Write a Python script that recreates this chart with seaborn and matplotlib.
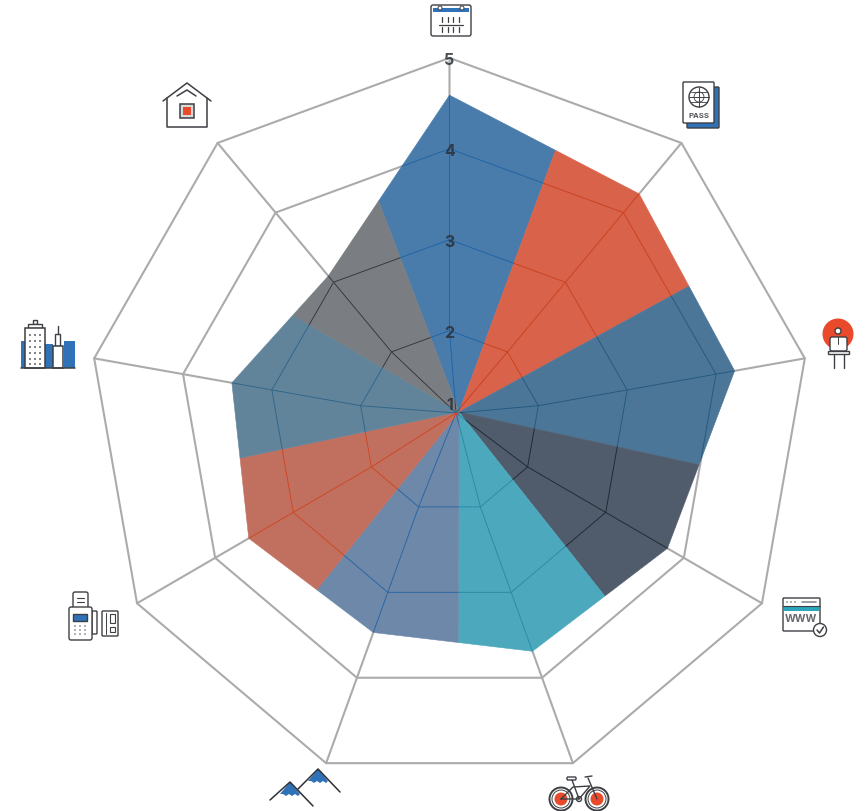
import numpy as np
import seaborn as sns
from matplotlib import pyplot as plt
from matplotlib.patches import Circle, FancyBboxPatch, Polygon, Rectangle

values = [4.59, 4.27, 4.21, 3.79, 3.69, 3.47, 3.57, 3.45, 3.09]
# where each coloured wedge ends, clockwise from the top, last one closes the first
wedge_ends = [20.4, 61.5, 102.3, 141.4, 180.2, 218.9, 258.2, 300, 339]
fill_colors = ["#4a7cab", "#d8634a", "#4b7698", "#505c6b", "#4ba8bd",
               "#6d88a8", "#c1705f", "#62849b", "#7a7d82"]
line_colors = ["#1f62a5", "#c9401f", "#24587f", "#1f2733", "#2a8aa6",
               "#2a63a3", "#cf4522", "#2f6488", "#33363c"]
ring_values = [2, 3, 4, 5]
tick_labels = ["1", "2", "3", "4", "5"]

PX_X, PX_Y = 90.2, 90.9  # pixels per unit on the radial scale
CX, CY = 449.5, 422.5
SPOKE_HUB = np.array([6.5 / PX_X, 8.5 / PX_Y])  # the spokes meet off centre
FILL_HUB = np.array([9.5 / PX_X, 9.5 / PX_Y])
DARK = "#3d3f44"
BLUE = "#2f72b8"
RED = "#ea4a2c"


def spoke_point(i, value):
    """Position of a value on spoke i, clockwise from the top."""
    angle = np.deg2rad(40 * i)
    return np.array([np.sin(angle), np.cos(angle)]) * (value - 1)


def ray_hit(angle_deg, a, b):
    """Where the ray from the fill hub at this angle crosses the edge a-b."""
    angle = np.deg2rad(angle_deg)
    d = np.array([np.sin(angle), np.cos(angle)])
    t = np.linalg.solve(np.column_stack([d, a - b]), a - FILL_HUB)[0]
    return FILL_HUB + d * t


def draw_grid(ax, color, lw, zorder, clip=None):
    n = len(values)
    for ring in ring_values:
        pts = np.array([spoke_point(i, ring) for i in range(n + 1)])
        sns.lineplot(x=pts[:, 0], y=pts[:, 1], sort=False, estimator=None,
                     color=color, lw=lw, zorder=zorder, ax=ax)
        if clip is not None:
            ax.lines[-1].set_clip_path(clip)
    for i in range(n):
        # straight down to ring 2, then bent in to the hub
        pts = np.array([SPOKE_HUB, spoke_point(i, 2), spoke_point(i, 5)])
        sns.lineplot(x=pts[:, 0], y=pts[:, 1], sort=False, estimator=None,
                     color=color, lw=lw, zorder=zorder, ax=ax)
        if clip is not None:
            ax.lines[-1].set_clip_path(clip)


def line(ax, xs, ys, color=DARK, lw=1.0):
    ax.plot(xs, ys, color=color, lw=lw, solid_capstyle="round", zorder=5)


def box(ax, x0, y0, x1, y1, fc="white", ec=DARK, lw=1.0, round_px=0):
    if round_px:
        patch = FancyBboxPatch((x0, y0), x1 - x0, y1 - y0, fc=fc, ec=ec, lw=lw, zorder=4,
                               boxstyle=f"round,pad=0,rounding_size={round_px}")
    else:
        patch = Rectangle((x0, y0), x1 - x0, y1 - y0, fc=fc, ec=ec, lw=lw, zorder=4)
    ax.add_patch(patch)


def circle(ax, x, y, r, fc="white", ec=DARK, lw=1.0):
    ax.add_patch(Circle((x, y), r, fc=fc, ec=ec, lw=lw, zorder=4))


def draw_icons(ax):
    # calendar
    box(ax, 431, 6, 471, 37, round_px=2)
    box(ax, 433, 9, 469, 13, fc=BLUE, ec="none")
    for x in [440, 462]:
        circle(ax, x, 9, 2, lw=0.7)
    line(ax, [439, 463], [25.5, 25.5], lw=0.9)
    for x in [442, 448, 453, 459]:
        line(ax, [x, x], [18, 23], lw=0.9)
        line(ax, [x, x], [28, 33], lw=0.9)

    # passport
    box(ax, 687, 88, 719, 129, fc=BLUE, round_px=1)
    box(ax, 683, 83, 714, 124, round_px=1)
    circle(ax, 699, 98, 10)
    line(ax, [689, 709], [98, 98], lw=0.7)
    line(ax, [699, 699], [88, 108], lw=0.7)
    line(ax, [691, 707], [93, 93], lw=0.6)
    line(ax, [691, 707], [103, 103], lw=0.6)
    ax.add_patch(Circle((699, 98), 5, fc="none", ec=DARK, lw=0.6, zorder=5))
    ax.text(699, 116, "PASS", ha="center", va="center", fontsize=5.6,
            fontweight="bold", color="#55575c", zorder=5)

    # person at a desk
    circle(ax, 838, 335, 15.5, fc=RED, ec="none")
    box(ax, 830, 338, 847, 352, round_px=2)
    circle(ax, 838, 332, 3)
    line(ax, [838, 838], [338, 345], lw=0.7)
    box(ax, 828, 352, 849, 355)
    line(ax, [834, 834], [355, 369])
    line(ax, [844, 844], [355, 369])

    # website
    box(ax, 783, 599, 820, 632, round_px=1)
    line(ax, [783, 820], [607, 607], lw=0.8)
    box(ax, 784, 608, 819, 612, fc="#2ba6bb", ec="none")
    for x in [787, 791, 795]:
        circle(ax, x, 603, 0.7, fc=DARK, ec="none")
    line(ax, [802, 816], [603, 603], lw=1.2, color="#8a8c90")
    ax.text(801, 619, "WWW", ha="center", va="center", fontsize=7.5,
            fontweight="bold", color="#66686d", zorder=5)
    circle(ax, 820, 631, 6.5)
    line(ax, [817, 819.5, 823.5], [631, 634, 628], lw=1.1)

    # bicycle
    for x in [561, 597]:
        circle(ax, x, 800, 11.5, lw=1.4)
        circle(ax, x, 800, 9, lw=0.7)
        circle(ax, x, 800, 6.5, fc=RED, ec="none")
    line(ax, [561, 573, 590, 579, 561], [800, 788, 787, 800, 800])
    line(ax, [572, 579], [781, 800])
    line(ax, [588, 597], [779, 800])
    line(ax, [585, 592], [778, 777])
    box(ax, 567, 778, 576, 781, round_px=1)
    circle(ax, 579, 800, 2.5)

    # mountains
    for peak_x, peak_y, cap_y in [(318, 770, 782), (290, 783, 795)]:
        scallop = [peak_x + dx for dx in [-10, -7, -4, -1, 2, 5, 8, 10]]
        cap_ys = [cap_y, cap_y + 2, cap_y, cap_y + 2, cap_y, cap_y + 2, cap_y, cap_y]
        ax.add_patch(Polygon([(peak_x, peak_y), *zip(scallop[::-1], cap_ys)],
                             fc=BLUE, ec="none", zorder=4))
    line(ax, [298, 318, 340], [790, 770, 793], color="#2e3036", lw=1.1)
    line(ax, [270, 290, 313], [801, 783, 807], color="#2e3036", lw=1.1)

    # card machine
    box(ax, 73, 593, 88, 610, round_px=2)
    line(ax, [77, 84], [599, 599], lw=0.8)
    line(ax, [77, 84], [603, 603], lw=0.8)
    box(ax, 92, 612, 97, 635, round_px=1)
    box(ax, 69, 608, 92, 641, round_px=2)
    box(ax, 73, 615, 87, 622, fc=BLUE)
    for y in [627, 631, 635]:
        for x in [75, 80, 85]:
            circle(ax, x, y, 0.7, fc=DARK, ec="none")
    box(ax, 102, 612, 118, 637, round_px=1)
    line(ax, [106, 106], [614, 635], lw=0.7)
    box(ax, 110, 615, 115, 624, lw=0.8)
    box(ax, 110, 628, 115, 633, lw=0.8)

    # city
    box(ax, 21, 342, 26, 369, fc=BLUE, ec="none")
    box(ax, 45, 345, 53, 369, fc=BLUE, ec="none")
    box(ax, 64, 342, 75, 369, fc=BLUE, ec="none")
    box(ax, 33, 321, 37, 325)
    box(ax, 28, 325, 42, 329)
    box(ax, 25, 329, 45, 369, lw=1.1)
    for y in [336, 342, 348, 354, 360, 365]:
        for x in [30, 35, 40]:
            circle(ax, x, y, 0.9, fc=DARK, ec="none")
    line(ax, [57.5, 57.5], [327, 335])
    box(ax, 55, 335, 60, 347)
    box(ax, 53, 347, 63, 369, lw=1.1)
    line(ax, [21, 75], [369, 369], lw=1.1)

    # house
    line(ax, [163, 187, 211], [102, 84, 102], lw=1.1)
    line(ax, [177, 187, 196], [97, 91, 97], lw=1.1)
    line(ax, [167, 167, 207, 207], [99, 128, 128, 99], lw=1.1)
    box(ax, 180, 105, 194, 119, fc="#d9d9d9", lw=1.1)
    box(ax, 183, 108, 191, 116, fc=RED, ec="none")


sns.set_theme(style="white")
plt.rcParams["font.family"] = ["Inter", "DejaVu Sans"]

fig = plt.figure(figsize=(8.66, 8.12), dpi=100)
ax = fig.add_axes([0, 0, 1, 1])
ax.set_xlim(-CX / PX_X, (866 - CX) / PX_X)
ax.set_ylim(-(812 - CY) / PX_Y, CY / PX_Y)
ax.axis("off")

draw_grid(ax, "#ababab", 1.5, 1)

n = len(values)
for i in range(n):
    here = spoke_point(i, values[i])
    start = ray_hit(wedge_ends[i - 1], spoke_point(i - 1, values[i - 1]), here)
    end = ray_hit(wedge_ends[i], here, spoke_point((i + 1) % n, values[(i + 1) % n]))
    wedge = ax.fill(*zip(FILL_HUB, start, here, end), color=fill_colors[i], lw=0.4, zorder=2)[0]
    draw_grid(ax, line_colors[i], 0.65, 3, clip=wedge)

for k, label in enumerate(tick_labels):
    if k == 0:
        x, y = 0, 16.5 / PX_Y  # the 1 sits just above the hub
    else:
        x, y = spoke_point(0, k + 1)
        y -= 2 / PX_Y
    ax.text(x, y, label, ha="center", va="center", fontsize=11.5, fontweight="bold",
            color="#2b3038", alpha=0.85, zorder=6)

icons = fig.add_axes([0, 0, 1, 1])
icons.set_xlim(0, 866)
icons.set_ylim(812, 0)
icons.axis("off")
icons.patch.set_alpha(0)
draw_icons(icons)

fig.savefig("out.png", dpi=100)
